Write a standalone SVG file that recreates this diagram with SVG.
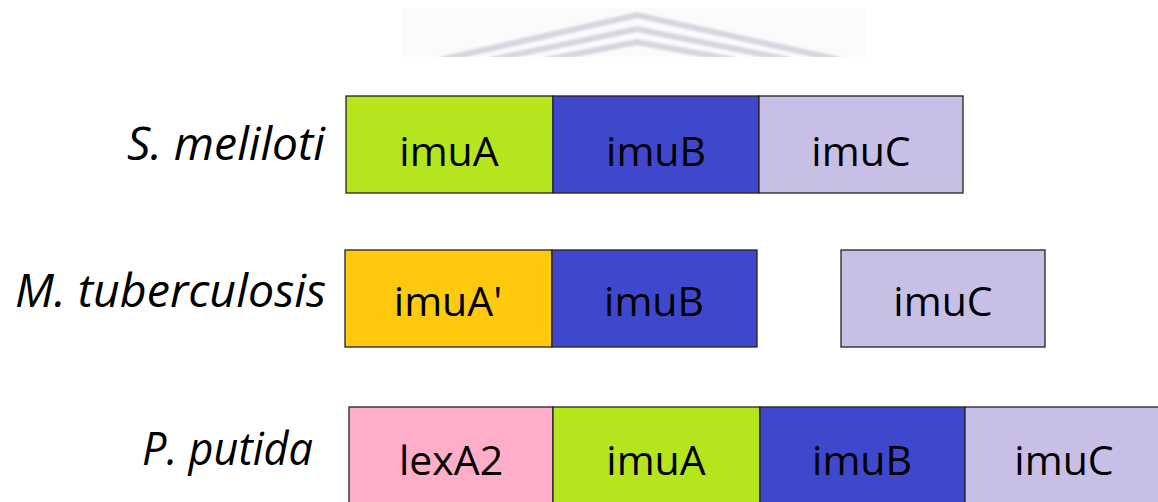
<svg xmlns="http://www.w3.org/2000/svg" width="1158" height="502" viewBox="0 0 1158 502">
<defs>
<filter id="soft" x="-5%" y="-20%" width="110%" height="140%"><feGaussianBlur stdDeviation="1.2"/></filter>
</defs>
<style>
.lbl{font-family:"Open Sans","Liberation Sans",sans-serif;font-style:italic;font-size:45px;fill:#000;text-anchor:start}
.gt{font-family:"Open Sans","Liberation Sans",sans-serif;font-size:41px;fill:#000;text-anchor:middle}
.bx{stroke:#222;stroke-width:1.3}
.a{fill:#b5e61d}.b{fill:#3f48cc}.c{fill:#c8bfe7}.ap{fill:#ffc90e}.lx{fill:#ffaec9}
.wm{fill:none;stroke:#d6d6de;stroke-width:6}
</style>
<rect width="1158" height="502" fill="#fff"/>
<g id="watermark">
<rect x="403" y="8" width="462" height="49" fill="#fbfbfc"/>
<g filter="url(#soft)">
<path class="wm" d="M440 60 L637 15 L840 60"/>
<path class="wm" d="M490 60 L637 29 L790 60"/>
<path class="wm" d="M545 60 L637 42 L735 60"/>
</g>
<rect x="380" y="57" width="520" height="10" fill="#fff"/>
</g>
<g id="row1">
<text class="lbl" x="127" y="160" textLength="198" lengthAdjust="spacingAndGlyphs">S. meliloti</text>
<g id="r1-imuA"><rect class="bx a" x="346" y="96" width="207" height="97"/><text class="gt" x="449" y="166">imuA</text></g>
<g id="r1-imuB"><rect class="bx b" x="553" y="96" width="206" height="97"/><text class="gt" x="656" y="166">imuB</text></g>
<g id="r1-imuC"><rect class="bx c" x="759" y="96" width="204" height="97"/><text class="gt" x="861" y="166">imuC</text></g>
</g>
<g id="row2">
<text class="lbl" x="15" y="307" textLength="311" lengthAdjust="spacingAndGlyphs">M. tuberculosis</text>
<g id="r2-imuA"><rect class="bx ap" x="345" y="250" width="207" height="97"/><text class="gt" x="448" y="316">imuA'</text></g>
<g id="r2-imuB"><rect class="bx b" x="552" y="250" width="205" height="97"/><text class="gt" x="654" y="316">imuB</text></g>
<g id="r2-imuC"><rect class="bx c" x="841" y="250" width="204" height="97"/><text class="gt" x="943" y="316">imuC</text></g>
</g>
<g id="row3">
<text class="lbl" x="142" y="465" textLength="171" lengthAdjust="spacingAndGlyphs">P. putida</text>
<g id="r3-lexA2"><rect class="bx lx" x="349" y="407" width="204" height="100"/><text class="gt" x="451" y="475">lexA2</text></g>
<g id="r3-imuA"><rect class="bx a" x="553" y="407" width="207" height="100"/><text class="gt" x="656" y="475">imuA</text></g>
<g id="r3-imuB"><rect class="bx b" x="760" y="407" width="205" height="100"/><text class="gt" x="862" y="475">imuB</text></g>
<g id="r3-imuC"><rect class="bx c" x="965" y="407" width="200" height="100"/><text class="gt" x="1064" y="475">imuC</text></g>
</g>
</svg>
